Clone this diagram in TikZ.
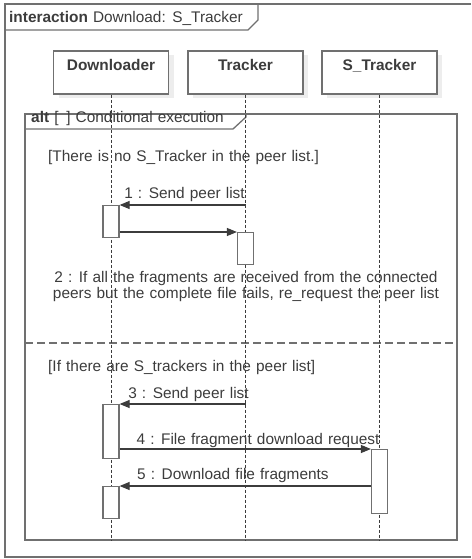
\documentclass[tikz,border=0pt]{standalone}
\usepackage{fontspec}
\setmainfont[WordSpace=1.2]{Liberation Sans}
\usetikzlibrary{arrows.meta,shadows}
\definecolor{linegray}{HTML}{707070}
\definecolor{inkgray}{HTML}{3C3C3C}
\definecolor{shadowgray}{HTML}{EDEDED}
\newcommand\umlfont{\fontsize{15.4}{16}\selectfont}
\begin{document}
\begin{tikzpicture}[x=1pt,y=-1pt,
  frameline/.style={draw=linegray, line width=1.3pt},
  headbox/.style={draw=linegray, line width=1.3pt, fill=white, minimum width=115pt,
    minimum height=43pt, inner sep=0pt,
    drop shadow={shadow xshift=5pt, shadow yshift=-4pt, fill=shadowgray, opacity=1}},
  headtext/.style={font=\umlfont\bfseries, text=inkgray, anchor=base, inner sep=0pt},
  lifeline/.style={draw=inkgray, line width=0.9pt, dash pattern=on 3pt off 2pt},
  actbox/.style={draw=linegray, line width=1.2pt, fill=white, minimum width=16pt,
    inner sep=0pt, anchor=north},
  msg/.style={draw=inkgray, line width=1.1pt, -{Triangle[length=10pt,width=8pt]}},
  txt/.style={font=\umlfont, text=inkgray, inner sep=0pt},
]
\useasboundingbox (0,0) rectangle (471,559);

% outer interaction frame with its name tab
\draw[frameline] (471,4) -- (5,4) -- (5,557) -- (471,557);
\draw[frameline] (5,30) -- (248,30) -- (258,20) -- (258,4);
\node[txt, anchor=base west] (title) at (9,22.5) {\textbf{interaction} Download: S\_Tracker};

% lifeline heads
\node[headbox] (dl) at (111,72.5) {};
\node[headbox] (tr) at (245.5,72.5) {};
\node[headbox] (st) at (379.5,72.5) {};
\node[headtext] (dlname) at (111,71) {Downloader};
\node[headtext] (trname) at (245.5,71) {Tracker};
\node[headtext] (stname) at (379.5,71) {S\_Tracker};

% lifeline ends
\coordinate (dlEnd) at (111,540);
\coordinate (trEnd) at (245.5,540);
\coordinate (stEnd) at (379.5,540);

% alt combined fragment
\draw[frameline] (25,114) rectangle (457,540);
\draw[frameline] (25,129) -- (233,129) -- (246,117) -- (246,114);
\node[txt, anchor=base west] (altlabel) at (31,123) {\textbf{alt} [ \,] Conditional execution};
\draw[frameline, dash pattern=on 8pt off 4pt] (25,343) -- (457,343);

% guards
\node[txt, anchor=base west] (guard1) at (48,161) {[There is no S\_Tracker in the peer list.]};
\node[txt, anchor=base west] (guard2) at (48,371.5) {[If there are S\_trackers in the peer list]};

% lifelines
\draw[lifeline] (dl.south) -- (dlEnd);
\draw[lifeline] (tr.south) -- (trEnd);
\draw[lifeline] (st.south) -- (stEnd);

% activations
\node[actbox, minimum height=32pt] (a1) at (111,205) {};
\node[actbox, minimum height=32pt] (a2) at (245.5,232) {};
\node[actbox, minimum height=54pt] (a3) at (111,404) {};
\node[actbox, minimum height=64pt] (a4) at (379.5,449) {};
\node[actbox, minimum height=32pt] (a5) at (111,486) {};

\coordinate (t1) at (245.5,205);
\coordinate (t3) at (245.5,404);

% messages
\draw[msg] (t1) -- (a1.north east);
\node[txt, anchor=base] (m1) at (184.5,198) {1 : Send peer list};

\draw[msg] (a1.east |- a2.north) -- (a2.north west);
\node[txt, anchor=base, align=center] (m2) at (246,298.5)
  {2 : If all the fragments are received from the connected\\peers but the complete file fails, re\_request the peer list};

\draw[msg] (t3) -- (a3.north east);
\node[txt, anchor=base] (m3) at (188.5,398) {3 : Send peer list};

\draw[msg] (a3.east |- a4.north) -- (a4.north west);
\node[txt, anchor=base] (m4) at (258,444) {4 : File fragment download request};

\draw[msg] (a4.west |- a5.north) -- (a5.north east);
\node[txt, anchor=base west] (m5) at (137,479) {5 : Download file fragments};
\end{tikzpicture}
\end{document}
